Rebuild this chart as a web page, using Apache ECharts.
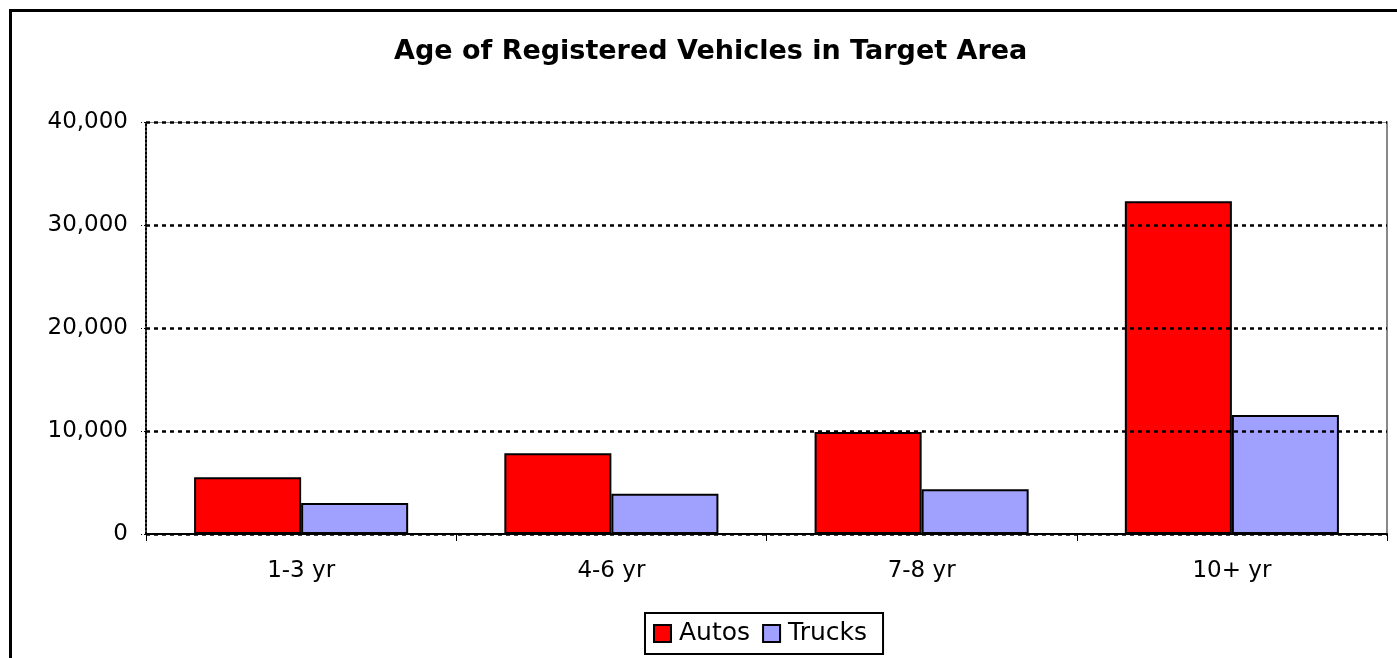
<!DOCTYPE html>
<html>
<head>
<meta charset="utf-8">
<script src="https://cdn.jsdelivr.net/npm/echarts@6/dist/echarts.min.js"></script>
<style>
html,body{margin:0;padding:0;background:#fff;}
#chart{width:1397px;height:658px;}
</style>
</head>
<body>
<div id="chart"></div>
<script>
const categories = ['1-3 yr', '4-6 yr', '7-8 yr', '10+ yr'];
const autos = [5500, 7850, 9900, 32300];
const trucks = [3000, 3900, 4350, 11550];
const yTicks = [0, 10000, 20000, 30000, 40000];

const chart = echarts.init(document.getElementById('chart'));
const font = '"DejaVu Sans", Verdana, sans-serif';
chart.setOption({
  animation: false,
  backgroundColor: '#fff',
  textStyle: { fontFamily: font },
  graphic: [{
    type: 'rect', left: 8, top: 8, z: 100, silent: true,
    shape: { width: 1400, height: 700 },
    style: { fill: 'none', stroke: '#000', lineWidth: 3 }
  }],
  title: {
    text: 'Age of Registered Vehicles in Target Area',
    left: 389, top: 33,
    textStyle: { fontFamily: font, fontWeight: 'bold', fontSize: 27, color: '#000' }
  },
  legend: {
    data: ['Autos', 'Trucks'],
    bottom: 4, left: 645,
    borderColor: '#000', borderWidth: 2,
    padding: [8, 16, 8, 8],
    itemWidth: 17, itemHeight: 17, itemGap: 12,
    icon: 'rect',
    textStyle: { fontFamily: font, fontSize: 25, color: '#000', padding: [0, 0, 0, 3] }
  },
  grid: { left: 146, right: 10, top: 122, bottom: 124 },
  xAxis: [{
    type: 'category', data: categories,
    axisLine: { lineStyle: { color: '#000', width: 2 } },
    axisTick: { show: true, length: 7, lineStyle: { color: '#000', width: 1 } },
    axisLabel: { fontFamily: font, fontSize: 23, color: '#000', margin: 26 }
  }, {
    type: 'category', data: categories, position: 'top', z: -1,
    axisLine: { show: true, onZero: false, lineStyle: { color: '#888', width: 1 } },
    axisTick: { show: false }, axisLabel: { show: false }
  }],
  yAxis: [{
    type: 'value', min: 0, max: 40000, interval: 10000, z: 3,
    axisLine: { show: true, lineStyle: { color: '#000', width: 2, type: [2, 2] } },
    axisTick: { show: true, length: 5, lineStyle: { color: '#000', type: [2, 2] } },
    axisLabel: {
      fontFamily: font, fontSize: 23, color: '#000', margin: 18,
      formatter: v => yTicks.includes(v) ? v.toLocaleString('en-US') : ''
    },
    splitLine: { show: true, lineStyle: { color: '#000', width: 2.5, type: [4, 4] } }
  }, {
    type: 'value', min: 0, max: 40000, interval: 10000, position: 'right',
    axisLine: { show: true, onZero: false, lineStyle: { color: '#888', width: 2 } },
    axisTick: { show: false }, axisLabel: { show: false }, splitLine: { show: false }
  }],
  series: [{
    name: 'Autos', type: 'bar', data: autos,
    barGap: '0%', barCategoryGap: '31%',
    itemStyle: { color: '#ff0000', borderColor: '#000', borderWidth: 2 }
  }, {
    name: 'Trucks', type: 'bar', data: trucks,
    barGap: '0%', barCategoryGap: '31%',
    itemStyle: { color: '#a0a0ff', borderColor: '#000', borderWidth: 2 }
  }]
});
</script>
</body>
</html>
